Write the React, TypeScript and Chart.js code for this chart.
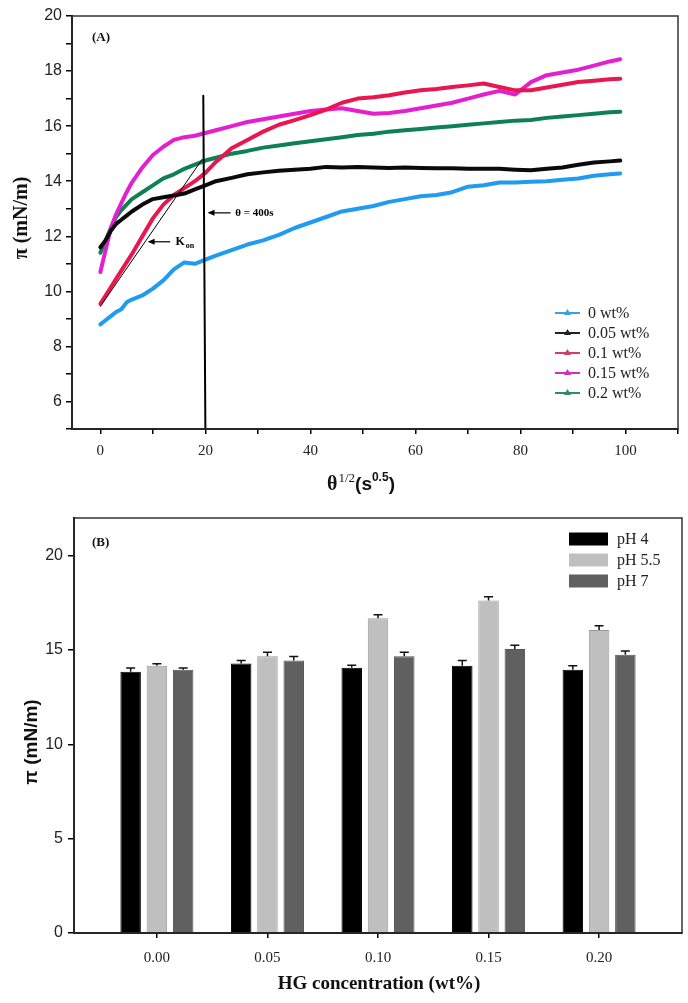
import React, { useEffect, useRef } from 'react';
import { Chart, registerables } from 'chart.js';

Chart.register(...registerables);

const SERIF = "'Liberation Serif', 'Times New Roman', serif";
const SANS = "'Liberation Sans', Arial, Helvetica, sans-serif";

// ---------- Panel A data ----------
const THETA = [0, 1, 2, 3, 4, 5, 6, 8, 10, 12, 14, 16, 18, 20, 22, 25, 28, 31, 34, 37, 40, 43, 46, 49, 52, 55, 58, 61, 64, 67, 70, 73, 76, 79, 82, 85, 88, 91, 94, 97, 99];
const PI_0 = [8.8, 8.95, 9.1, 9.25, 9.35, 9.6, 9.7, 9.85, 10.1, 10.4, 10.8, 11.05, 11.0, 11.15, 11.3, 11.5, 11.7, 11.85, 12.05, 12.3, 12.5, 12.7, 12.9, 13.0, 13.1, 13.25, 13.35, 13.45, 13.5, 13.6, 13.8, 13.85, 13.95, 13.95, 13.98, 14.0, 14.05, 14.1, 14.2, 14.25, 14.28];
const PI_005 = [11.6, 11.85, 12.2, 12.45, 12.6, 12.75, 12.9, 13.15, 13.35, 13.42, 13.48, 13.55, 13.7, 13.85, 14.0, 14.12, 14.25, 14.32, 14.38, 14.42, 14.45, 14.52, 14.5, 14.52, 14.5, 14.48, 14.5, 14.48, 14.47, 14.47, 14.45, 14.45, 14.45, 14.42, 14.4, 14.45, 14.5, 14.6, 14.68, 14.72, 14.75];
const PI_01 = [9.55, 9.85, 10.15, 10.45, 10.75, 11.05, 11.35, 12.0, 12.65, 13.15, 13.5, 13.75, 14.0, 14.3, 14.7, 15.2, 15.5, 15.8, 16.05, 16.22, 16.4, 16.6, 16.85, 17.0, 17.05, 17.12, 17.22, 17.3, 17.35, 17.42, 17.48, 17.55, 17.42, 17.3, 17.3, 17.4, 17.5, 17.6, 17.65, 17.7, 17.72];
const PI_015 = [10.7, 11.5, 12.3, 12.8, 13.2, 13.6, 13.95, 14.5, 14.95, 15.25, 15.5, 15.6, 15.65, 15.75, 15.85, 16.0, 16.15, 16.25, 16.35, 16.45, 16.55, 16.6, 16.65, 16.55, 16.45, 16.48, 16.55, 16.65, 16.75, 16.85, 17.0, 17.15, 17.28, 17.15, 17.6, 17.85, 17.95, 18.05, 18.2, 18.35, 18.43];
const PI_02 = [11.4, 11.85, 12.3, 12.7, 12.95, 13.15, 13.35, 13.6, 13.85, 14.1, 14.25, 14.45, 14.6, 14.75, 14.85, 15.0, 15.1, 15.22, 15.3, 15.38, 15.45, 15.52, 15.6, 15.68, 15.72, 15.8, 15.85, 15.9, 15.95, 16.0, 16.05, 16.1, 16.15, 16.2, 16.22, 16.3, 16.35, 16.4, 16.45, 16.5, 16.52];

const SERIES_LABELS = ['0 wt%', '0.05 wt%', '0.1 wt%', '0.15 wt%', '0.2 wt%'];
const SERIES_COLORS = ['#1f9bef', '#0a0a0a', '#e8174f', '#e41fcf', '#0f7f55'];
const LEGEND_COLORS = ['#3aa0e8', '#222222', '#d43c6c', '#d42cc4', '#2f8a6a'];

const VLINE_X = [19.6, 20];
const VLINE_Y = [17.1, 5];
const TANGENT_X = [0, 19.4];
const TANGENT_Y = [9.45, 14.8];

const X_TICKS_A = [0, 10, 20, 30, 40, 50, 60, 70, 80, 90, 100, 110];
const Y_TICKS_A = [5, 6, 7, 8, 9, 10, 11, 12, 13, 14, 15, 16, 17, 18, 19, 20];

// ---------- Panel B data ----------
const HG = [0, 0.05, 0.1, 0.15, 0.2];
const PH_LABELS = ['pH 4', 'pH 5.5', 'pH 7'];
const PH4 = [13.85, 14.29, 14.06, 14.17, 13.96];
const PH55 = [14.17, 14.67, 16.68, 17.62, 16.06];
const PH7 = [13.96, 14.45, 14.67, 15.05, 14.75];
const PH4_ERR = [0.2, 0.16, 0.14, 0.28, 0.21];
const PH55_ERR = [0.11, 0.21, 0.19, 0.2, 0.23];
const PH7_ERR = [0.09, 0.21, 0.21, 0.21, 0.2];
const BAR_COLORS = ['#000000', '#bfbfbf', '#606060'];
const BAR_BORDERS = ['#000000', '#9a9a9a', '#555555'];
const Y_TICKS_B = [0, 5, 10, 15, 20];

function arrowLeft(ctx: CanvasRenderingContext2D, xHead: number, xTail: number, y: number) {
  ctx.beginPath();
  ctx.moveTo(xHead + 5, y);
  ctx.lineTo(xTail, y);
  ctx.stroke();
  ctx.beginPath();
  ctx.moveTo(xHead, y);
  ctx.lineTo(xHead + 7, y - 3);
  ctx.lineTo(xHead + 7, y + 3);
  ctx.closePath();
  ctx.fill();
}

const decorA = {
  id: 'decorA',
  afterDraw(chart: any) {
    const { ctx, chartArea: ca } = chart;
    const x = chart.scales.x;
    const y = chart.scales.y;
    ctx.save();
    ctx.strokeStyle = '#333';
    ctx.lineWidth = 1.5;
    ctx.strokeRect(ca.left, ca.top, ca.right - ca.left, ca.bottom - ca.top);

    ctx.fillStyle = '#111';
    ctx.textAlign = 'left';
    ctx.textBaseline = 'middle';
    ctx.font = `bold 13px ${SERIF}`;
    ctx.fillText('(A)', ca.left + 20, ca.top + 22);

    ctx.strokeStyle = '#000';
    ctx.fillStyle = '#000';
    ctx.lineWidth = 1.2;
    const ay = y.getPixelForValue(12.85);
    arrowLeft(ctx, x.getPixelForValue(20.4), x.getPixelForValue(24.8), ay);
    ctx.font = `bold 11px ${SERIF}`;
    ctx.fillText('θ = 400s', x.getPixelForValue(25.7), ay);

    const ky = y.getPixelForValue(11.8);
    arrowLeft(ctx, x.getPixelForValue(9), x.getPixelForValue(13.3), ky);
    ctx.font = `bold 12px ${SERIF}`;
    const kx = x.getPixelForValue(14.3);
    ctx.fillText('K', kx, ky);
    const kw = ctx.measureText('K').width;
    ctx.font = `bold 8px ${SERIF}`;
    ctx.fillText('on', kx + kw + 1, ky + 4);

    // legend
    ctx.font = `16px ${SERIF}`;
    SERIES_LABELS.forEach((lab, i) => {
      const ly = ca.top + 297 + i * 20;
      const x0 = ca.right - 123;
      const x1 = ca.right - 98;
      ctx.strokeStyle = LEGEND_COLORS[i];
      ctx.fillStyle = LEGEND_COLORS[i];
      ctx.lineWidth = 2;
      ctx.beginPath();
      ctx.moveTo(x0, ly);
      ctx.lineTo(x1, ly);
      ctx.stroke();
      const cx = (x0 + x1) / 2;
      ctx.beginPath();
      ctx.moveTo(cx, ly - 4);
      ctx.lineTo(cx + 3.5, ly + 2);
      ctx.lineTo(cx - 3.5, ly + 2);
      ctx.closePath();
      ctx.fill();
      ctx.fillStyle = '#222';
      ctx.fillText(lab, ca.right - 90, ly + 1);
    });

    // x title: θ^{1/2}(s^{0.5})
    ctx.fillStyle = '#111';
    ctx.textBaseline = 'alphabetic';
    let tx = 327;
    const by = 490;
    ctx.font = `bold 20px ${SERIF}`;
    ctx.fillText('θ', tx, by);
    tx += ctx.measureText('θ').width;
    ctx.font = `13px ${SERIF}`;
    ctx.fillText('1/2', tx + 1, by - 8);
    tx += ctx.measureText('1/2').width + 1;
    ctx.font = `bold 19px ${SANS}`;
    ctx.fillText('(s', tx, by);
    tx += ctx.measureText('(s').width;
    ctx.font = `bold 12px ${SANS}`;
    ctx.fillText('0.5', tx, by - 9);
    tx += ctx.measureText('0.5').width;
    ctx.font = `bold 19px ${SANS}`;
    ctx.fillText(')', tx, by);

    // y title
    ctx.translate(22, 218);
    ctx.rotate(-Math.PI / 2);
    ctx.textAlign = 'center';
    ctx.textBaseline = 'middle';
    ctx.font = `bold 20px ${SERIF}`;
    ctx.fillText('π (mN/m)', 0, 0);
    ctx.restore();
  },
};

const VALS_B = [PH4, PH55, PH7];
const ERRS_B = [PH4_ERR, PH55_ERR, PH7_ERR];

const decorB = {
  id: 'decorB',
  afterDatasetsDraw(chart: any) {
    const { ctx } = chart;
    const y = chart.scales.y;
    ctx.save();
    ctx.strokeStyle = '#111';
    ctx.lineWidth = 1.5;
    VALS_B.forEach((vals, di) => {
      const meta = chart.getDatasetMeta(di);
      meta.data.forEach((bar: any, j: number) => {
        const bx = bar.x;
        const y0 = y.getPixelForValue(vals[j]);
        const y1 = y.getPixelForValue(vals[j] + ERRS_B[di][j]);
        ctx.beginPath();
        ctx.moveTo(bx, y0);
        ctx.lineTo(bx, y1);
        ctx.moveTo(bx - 4.5, y1);
        ctx.lineTo(bx + 4.5, y1);
        ctx.stroke();
      });
    });
    ctx.restore();
  },
  afterDraw(chart: any) {
    const { ctx, chartArea: ca } = chart;
    ctx.save();
    ctx.strokeStyle = '#333';
    ctx.lineWidth = 1.5;
    ctx.strokeRect(ca.left, ca.top, ca.right - ca.left, ca.bottom - ca.top);

    ctx.fillStyle = '#111';
    ctx.textAlign = 'left';
    ctx.textBaseline = 'middle';
    ctx.font = `bold 13px ${SERIF}`;
    ctx.fillText('(B)', ca.left + 18, ca.top + 25);

    ctx.font = `16px ${SERIF}`;
    PH_LABELS.forEach((lab, i) => {
      const ly = ca.top + 21 + i * 21;
      ctx.fillStyle = BAR_COLORS[i];
      ctx.fillRect(ca.right - 113, ly - 6.5, 39, 13);
      ctx.fillStyle = '#222';
      ctx.fillText(lab, ca.right - 65, ly + 1);
    });

    ctx.fillStyle = '#111';
    ctx.textAlign = 'center';
    ctx.textBaseline = 'alphabetic';
    ctx.font = `bold 19px ${SERIF}`;
    ctx.fillText('HG concentration (wt%)', 379, 489);

    ctx.translate(32, 242);
    ctx.rotate(-Math.PI / 2);
    ctx.textBaseline = 'middle';
    ctx.font = `bold 19px ${SANS}`;
    ctx.fillText('π (mN/m)', 0, 0);
    ctx.restore();
  },
};

export default function App() {
  const refA = useRef<HTMLCanvasElement | null>(null);
  const refB = useRef<HTMLCanvasElement | null>(null);

  useEffect(() => {
    document.body.style.margin = '0';
    const seriesVals = [PI_0, PI_005, PI_01, PI_015, PI_02];
    const lineDatasets: any[] = seriesVals.map((vals, i) => ({
      label: SERIES_LABELS[i],
      data: THETA.map((t, k) => ({ x: t, y: vals[k] })),
      borderColor: SERIES_COLORS[i],
      borderWidth: 4,
      pointRadius: 0,
      tension: 0,
      order: 1,
    }));
    lineDatasets.push({
      label: 'vline',
      data: VLINE_X.map((v, k) => ({ x: v, y: VLINE_Y[k] })),
      borderColor: '#000',
      borderWidth: 2,
      pointRadius: 0,
      order: 0,
    });
    lineDatasets.push({
      label: 'tangent',
      data: TANGENT_X.map((v, k) => ({ x: v, y: TANGENT_Y[k] })),
      borderColor: '#000',
      borderWidth: 1,
      pointRadius: 0,
      order: 0,
    });

    const chartA = new Chart(refA.current as HTMLCanvasElement, {
      type: 'line',
      data: { datasets: lineDatasets },
      options: {
        animation: false,
        responsive: false,
        layout: { padding: { left: 0, right: 10, top: 16, bottom: 0 } },
        elements: { line: { borderJoinStyle: 'round', borderCapStyle: 'round' } },
        plugins: { legend: { display: false }, tooltip: { enabled: false } },
        scales: {
          x: {
            type: 'linear',
            min: -5.4,
            max: 110,
            afterBuildTicks: (s: any) => { s.ticks = X_TICKS_A.map((v) => ({ value: v })); },
            afterFit: (s: any) => { s.height = 71; },
            grid: { drawOnChartArea: false, drawTicks: true, tickLength: 5, color: '#000', lineWidth: 1.5 },
            border: { color: '#000', width: 2 },
            ticks: {
              autoSkip: false,
              maxRotation: 0,
              padding: 8,
              color: '#222',
              font: { family: SERIF, size: 15 },
              callback: (v: any) => (v % 20 === 0 && v <= 100 ? String(v) : ''),
            },
          },
          y: {
            type: 'linear',
            min: 5,
            max: 20,
            afterBuildTicks: (s: any) => { s.ticks = Y_TICKS_A.map((v) => ({ value: v })); },
            afterFit: (s: any) => { s.width = 72; },
            grid: { drawOnChartArea: false, drawTicks: true, tickLength: 6, color: '#000', lineWidth: 1.5 },
            border: { color: '#000', width: 2 },
            ticks: {
              autoSkip: false,
              padding: 4,
              color: '#222',
              font: { family: SANS, size: 16 },
              callback: (v: any) => (v % 2 === 0 && v >= 6 ? String(v) : ''),
            },
          },
        },
      } as any,
      plugins: [decorA],
    });

    const chartB = new Chart(refB.current as HTMLCanvasElement, {
      type: 'bar',
      data: {
        datasets: VALS_B.map((vals, i) => ({
          label: PH_LABELS[i],
          data: HG.map((h, k) => ({ x: h, y: vals[k] })),
          backgroundColor: BAR_COLORS[i],
          borderColor: BAR_BORDERS[i],
          borderWidth: 1,
          categoryPercentage: 0.713,
          barPercentage: 0.78,
        })),
      },
      options: {
        animation: false,
        responsive: false,
        layout: { padding: { left: 0, right: 6, top: 18, bottom: 0 } },
        plugins: { legend: { display: false }, tooltip: { enabled: false } },
        scales: {
          x: {
            type: 'linear',
            min: -0.0375,
            max: 0.2375,
            offset: false,
            afterBuildTicks: (s: any) => { s.ticks = HG.map((v) => ({ value: v })); },
            afterFit: (s: any) => { s.height = 70; },
            grid: { offset: false, drawOnChartArea: false, drawTicks: true, tickLength: 5, color: '#000', lineWidth: 1.5 },
            border: { color: '#000', width: 2 },
            ticks: {
              autoSkip: false,
              maxRotation: 0,
              padding: 11,
              color: '#222',
              font: { family: SERIF, size: 15 },
              callback: (v: any) => Number(v).toFixed(2),
            },
          },
          y: {
            type: 'linear',
            min: 0,
            max: 22,
            afterBuildTicks: (s: any) => { s.ticks = Y_TICKS_B.map((v) => ({ value: v })); },
            afterFit: (s: any) => { s.width = 74; },
            grid: { drawOnChartArea: false, drawTicks: true, tickLength: 6, color: '#000', lineWidth: 1.5 },
            border: { color: '#000', width: 2 },
            ticks: {
              autoSkip: false,
              padding: 5,
              color: '#222',
              font: { family: SANS, size: 16 },
            },
          },
        },
      } as any,
      plugins: [decorB],
    });

    return () => {
      chartA.destroy();
      chartB.destroy();
    };
  }, []);

  return (
    <div style={{ position: 'absolute', left: 0, top: 0, width: 688, height: 1003, background: '#fff' }}>
      <canvas ref={refA} width={688} height={500} style={{ position: 'absolute', left: 0, top: 0 }} />
      <canvas ref={refB} width={688} height={503} style={{ position: 'absolute', left: 0, top: 500 }} />
    </div>
  );
}
